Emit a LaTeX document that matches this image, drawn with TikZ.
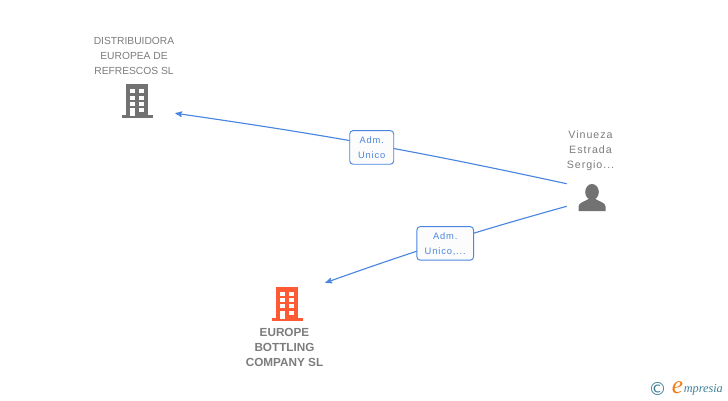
\documentclass[tikz,border=0pt]{standalone}
\usepackage{fontspec}
\setmainfont{Liberation Sans}
\newfontfamily\spacedfont[LetterSpace=9]{Liberation Sans}
\newfontfamily\logofont{Liberation Serif}
\newfontfamily\symbfont{DejaVu Sans}
\usetikzlibrary{arrows}

\definecolor{linkblue}{HTML}{4A86E0}
\definecolor{iconGrey}{HTML}{727272}
\definecolor{iconOrange}{HTML}{FF5A33}
\definecolor{textGrey}{HTML}{7C7C7C}
\definecolor{logoTeal}{HTML}{3F7F96}
\definecolor{logoOrange}{HTML}{F07D1A}

\tikzset{
  building/.pic={
    \fill[#1] (-11,-16) rectangle (11,16);
    \fill[#1] (-15.5,15) rectangle (15.5,18);
    \foreach \wy in {-11,-4.5,1.5} {
      \fill[white] (-7,\wy) rectangle (-2,\wy+4.3);
      \fill[white] (2,\wy) rectangle (7,\wy+4.3);
    }
    \fill[white] (-7,8) rectangle (-2,16);
    \fill[white] (2,8) rectangle (7,12.3);
  },
  person/.pic={
    \fill[iconGrey] (0,-5.5) ellipse (6.8 and 8);
    \fill[iconGrey] (-13.5,13.5) -- (-13.5,9) .. controls (-13.5,5) and (-7,4) .. (-3.5,1.5)
      -- (3.5,1.5) .. controls (7,4) and (13.5,5) .. (13.5,9) -- (13.5,13.5) -- cycle;
  }
}

\begin{document}
\begin{tikzpicture}[x=0.75pt,y=-0.75pt,>=stealth',auto]
  \tikzstyle{iconbox}=[inner sep=0pt,minimum width=57pt]
  \tikzstyle{link}=[->,draw=linkblue,line width=0.85pt]
  \tikzstyle{adm}=[draw=linkblue,line width=0.7pt,rounded corners=2.5pt,fill=black!1,
    text=linkblue,font=\spacedfont\fontsize{7}{11.2}\selectfont,align=center,inner sep=0pt,minimum height=25.2pt,text depth=-1.5pt]
  \tikzstyle{entityname}=[text=textGrey,font=\spacedfont\fontsize{8}{11.25}\selectfont,align=center,inner sep=0pt]
  \tikzstyle{capsname}=[text=textGrey,font=\fontsize{7.7}{11.25}\selectfont,align=center,inner sep=0pt]
  \tikzstyle{boldname}=[text=textGrey,font=\bfseries\fontsize{8.8}{11.25}\selectfont,align=center,inner sep=0pt]

  \useasboundingbox (0,0) rectangle (728,400);

  \node[iconbox,minimum height=19.5pt] (distribuidora) at (137,100) {};
  \node[iconbox,minimum height=29.25pt] (europe) at (287,302.5) {};
  \node[iconbox,minimum width=37.5pt,minimum height=16.5pt] (sergio) at (592,195) {};

  \pic at (distribuidora) {building=iconGrey};
  \pic at (europe) {building=iconOrange};
  \pic at (592,197.5) {person};

  \node[capsname] (distribuidoraname) at (134,55.5) {DISTRIBUIDORA\\EUROPEA DE\\REFRESCOS SL};
  \node[boldname] (europename) at (284.5,347) {EUROPE\\BOTTLING\\COMPANY SL};
  \node[entityname] (sergioname) at (590.5,151) {Vinueza\\Estrada\\Sergio...};

  \path (sergio.north west) edge [link,bend right=2] node [adm,swap,anchor=center,yshift=-2.2pt,minimum width=33pt] (admone) {Adm.\\Unico} (distribuidora.south east)
        (sergio.south west) edge [link,bend right=2] node [adm,swap,anchor=center,yshift=-1pt,minimum width=42.5pt] (admtwo) {Adm.\\Unico,...} (europe.north east);

  % logo
  \node[text=logoTeal,font=\symbfont\fontsize{13.5}{13.5}\selectfont,inner sep=0pt] (copyright) at (657.5,389) {©};
  \node[text=logoOrange,font=\logofont\itshape\fontsize{19}{19}\selectfont,inner sep=0pt] (logoe) at (677.5,388) {e};
  \node[text=logoTeal,font=\logofont\itshape\fontsize{9.2}{9.2}\selectfont,inner sep=0pt,anchor=west] (logoname) at (683.5,390) {mpresia};
\end{tikzpicture}
\end{document}
